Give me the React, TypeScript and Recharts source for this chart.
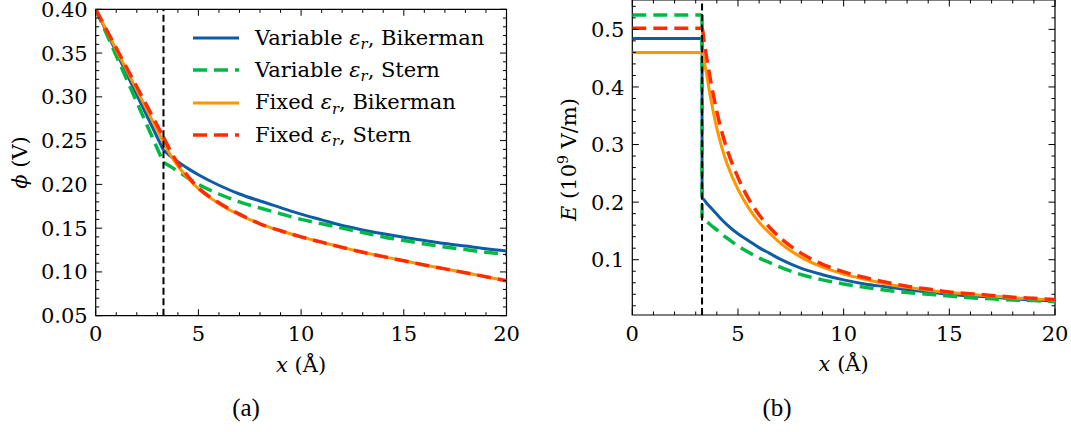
import { LineChart, Line, XAxis, YAxis, ReferenceLine, ReferenceArea } from 'recharts';

// (a) potential profile, phi in V
const xPhi = [0, 3.3, 3.6, 4, 4.5, 5, 6, 7, 8, 9, 10, 11, 12, 13, 14, 15, 16, 17, 18, 19, 20];
const phiVarBikerman = [0.4, 0.239, 0.233, 0.226, 0.218, 0.211, 0.199, 0.189, 0.181, 0.1735, 0.166, 0.1595, 0.153, 0.148, 0.1435, 0.1395, 0.136, 0.1325, 0.1295, 0.1265, 0.124];
const phiVarStern = [0.4, 0.225, 0.221, 0.215, 0.207, 0.2, 0.189, 0.18, 0.173, 0.1665, 0.16, 0.155, 0.15, 0.145, 0.14, 0.136, 0.132, 0.1285, 0.1255, 0.1225, 0.12];
const phiFixBikerman = [0.4, 0.248, 0.235, 0.221, 0.207, 0.195, 0.178, 0.165, 0.155, 0.147, 0.14, 0.134, 0.128, 0.1225, 0.1175, 0.1127, 0.108, 0.1035, 0.099, 0.0945, 0.09];
const phiFixStern = [0.4, 0.254, 0.24, 0.224, 0.209, 0.196, 0.179, 0.166, 0.155, 0.147, 0.14, 0.134, 0.128, 0.1225, 0.1175, 0.1127, 0.108, 0.1035, 0.099, 0.0945, 0.09];

// (b) field profile, E in 1e9 V/m (second point at the Stern plane carries the jump)
const xField = [0, 3.3, 3.301, 3.4, 3.5, 3.75, 4, 4.25, 4.5, 5, 5.5, 6, 6.5, 7, 8, 9, 10, 11, 12, 13, 14, 15, 16, 17, 18, 19, 20];
const eVarBikerman = [0.484, 0.484, 0.208, 0.204, 0.199, 0.189, 0.179, 0.169, 0.16, 0.145, 0.133, 0.121, 0.111, 0.101, 0.085, 0.074, 0.065, 0.058, 0.053, 0.048, 0.044, 0.04, 0.037, 0.035, 0.032, 0.03, 0.028];
const eVarStern = [0.525, 0.525, 0.172, 0.17, 0.167, 0.159, 0.152, 0.144, 0.137, 0.124, 0.113, 0.103, 0.095, 0.087, 0.074, 0.065, 0.058, 0.052, 0.047, 0.043, 0.04, 0.037, 0.034, 0.032, 0.03, 0.029, 0.027];
const eFixBikerman = [0.46, 0.46, 0.46, 0.445, 0.425, 0.372, 0.328, 0.293, 0.265, 0.222, 0.19, 0.165, 0.146, 0.129, 0.104, 0.087, 0.075, 0.066, 0.058, 0.052, 0.047, 0.043, 0.04, 0.037, 0.034, 0.032, 0.03];
const eFixStern = [0.502, 0.502, 0.502, 0.478, 0.455, 0.402, 0.357, 0.32, 0.29, 0.243, 0.206, 0.178, 0.156, 0.138, 0.111, 0.092, 0.079, 0.069, 0.061, 0.054, 0.049, 0.044, 0.041, 0.038, 0.035, 0.033, 0.031];

const sternPlane = 3.3;
const xTicks = [0, 5, 10, 15, 20];
const phiTicks = [0.05, 0.1, 0.15, 0.2, 0.25, 0.3, 0.35, 0.4];
const fieldTicks = [0.1, 0.2, 0.3, 0.4, 0.5];

const seriesDefs = [
  { key: 'varBik', eps: 'Variable', model: 'Bikerman', color: '#0C5DA5', dash: undefined, width: 3 },
  { key: 'varStern', eps: 'Variable', model: 'Stern', color: '#00B945', dash: '14 7', width: 3.5 },
  { key: 'fixBik', eps: 'Fixed', model: 'Bikerman', color: '#FF9500', dash: undefined, width: 3 },
  { key: 'fixStern', eps: 'Fixed', model: 'Stern', color: '#FF2C00', dash: '14 7', width: 3.5 },
];

const phiRows = xPhi.map((x, i) => ({
  x, varBik: phiVarBikerman[i], varStern: phiVarStern[i], fixBik: phiFixBikerman[i], fixStern: phiFixStern[i],
}));
const fieldRows = xField.map((x, i) => ({
  x, varBik: eVarBikerman[i], varStern: eVarStern[i], fixBik: eFixBikerman[i], fixStern: eFixStern[i],
}));

const SERIF = "'DejaVu Serif', serif";
const FS = 21;
const GAP_X = 10;
const GAP_Y = 8;

const same = (a: number, b: number) => Math.abs(a - b) < 1e-6;
const withMinors = (lo: number, hi: number, step: number) => {
  const out: number[] = [];
  for (let i = Math.ceil(lo / step - 1e-9); i * step <= hi + 1e-9; i++) out.push(+(i * step).toFixed(4));
  return out;
};

// ticks point inwards and are mirrored on the opposite side
const bottomTick = (majors: number[], topY: number) => (p: any) => {
  const v = p.payload.value;
  const major = majors.some((m) => same(m, v));
  const len = major ? 6.5 : 3.5;
  const ay = p.y - GAP_X;
  return (
    <g>
      <line x1={p.x} x2={p.x} y1={ay} y2={ay - len} stroke="#000" strokeWidth={1} />
      <line x1={p.x} x2={p.x} y1={topY} y2={topY + len} stroke="#000" strokeWidth={1} />
      {major && (
        <text x={p.x} y={p.y} dy="0.75em" textAnchor="middle" fontFamily={SERIF} fontSize={FS} fill="#000">
          {v}
        </text>
      )}
    </g>
  );
};

const leftTick = (majors: number[], rightX: number, digits: number) => (p: any) => {
  const v = p.payload.value;
  const major = majors.some((m) => same(m, v));
  const len = major ? 6.5 : 3.5;
  const ax = p.x + GAP_Y;
  return (
    <g>
      <line x1={ax} x2={ax + len} y1={p.y} y2={p.y} stroke="#000" strokeWidth={1} />
      <line x1={rightX} x2={rightX - len} y1={p.y} y2={p.y} stroke="#000" strokeWidth={1} />
      {major && (
        <text x={p.x} y={p.y} dy="0.36em" textAnchor="end" fontFamily={SERIF} fontSize={FS} fill="#000">
          {v.toFixed(digits)}
        </text>
      )}
    </g>
  );
};

const xLabel = (p: any) => {
  const vb = p.viewBox;
  return (
    <text x={vb.x + vb.width / 2} y={vb.y + 49} dy="0.35em" textAnchor="middle" fontFamily={SERIF} fontSize={FS} fill="#000">
      <tspan fontStyle="italic">x</tspan> (Å)
    </text>
  );
};

const phiLabel = (p: any) => {
  const vb = p.viewBox;
  const cx = 20;
  const cy = vb.y + vb.height / 2;
  return (
    <text x={cx} y={cy} dy="0.35em" textAnchor="middle" transform={`rotate(-90, ${cx}, ${cy})`} fontFamily={SERIF} fontSize={FS} fill="#000">
      <tspan fontStyle="italic">ϕ</tspan> (V)
    </text>
  );
};

const fieldLabel = (p: any) => {
  const vb = p.viewBox;
  const cx = 29;
  const cy = vb.y + vb.height / 2 + 2;
  return (
    <text x={cx} y={cy} dy="0.35em" textAnchor="middle" transform={`rotate(-90, ${cx}, ${cy})`} fontFamily={SERIF} fontSize={FS} fill="#000">
      <tspan fontStyle="italic">E</tspan> (10<tspan dy={-8} fontSize={14}>9</tspan><tspan dy={8}> V/m)</tspan>
    </text>
  );
};

// Stern layer is a straight segment, the diffuse part is a smooth curve
const renderLines = (rows: any[]) => {
  const inner = rows.filter((r) => r.x <= sternPlane);
  const outer = rows.filter((r) => r.x >= sternPlane);
  return seriesDefs.flatMap((s) => [
    <Line
      key={s.key + '-stern'}
      data={inner}
      type="linear"
      dataKey={s.key}
      stroke={s.color}
      strokeWidth={s.width}
      strokeDasharray={s.dash}
      dot={false}
      activeDot={false}
      isAnimationActive={false}
    />,
    <Line
      key={s.key + '-diffuse'}
      data={outer}
      type="monotone"
      dataKey={s.key}
      stroke={s.color}
      strokeWidth={s.width}
      strokeDasharray={s.dash}
      dot={false}
      activeDot={false}
      isAnimationActive={false}
    />,
  ]);
};

function PhiPanel() {
  const top = 9.3;
  const width = 540;
  const right = 506.5;
  return (
    <LineChart width={width} height={432} margin={{ top, right: width - right, bottom: 66.3, left: 0 }}>
      <XAxis
        dataKey="x"
        type="number"
        domain={[0, 20]}
        allowDataOverflow
        ticks={withMinors(0, 20, 1)}
        interval={0}
        axisLine={false}
        tickLine={false}
        tickSize={0}
        tickMargin={GAP_X}
        height={50}
        tick={bottomTick(xTicks, top)}
        label={{ content: xLabel }}
      />
      <YAxis
        type="number"
        domain={[0.05, 0.4]}
        allowDataOverflow
        ticks={withMinors(0.05, 0.4, 0.01)}
        interval={0}
        axisLine={false}
        tickLine={false}
        tickSize={0}
        tickMargin={GAP_Y}
        width={95.7}
        tick={leftTick(phiTicks, right, 2)}
        label={{ content: phiLabel }}
      />
      <ReferenceArea x1={0} x2={20} y1={0.05} y2={0.4} fill="none" stroke="#000" strokeWidth={1.2} ifOverflow="visible" />
      {renderLines(phiRows)}
      <ReferenceLine x={sternPlane} stroke="#000" strokeWidth={2} strokeDasharray="7 3.5" />
    </LineChart>
  );
}

function FieldPanel() {
  const top = 0;
  const width = 531;
  const right = 515;
  return (
    <LineChart width={width} height={432} margin={{ top, right: width - right, bottom: 67, left: 0 }}>
      <XAxis
        dataKey="x"
        type="number"
        domain={[0, 20]}
        allowDataOverflow
        ticks={withMinors(0, 20, 1)}
        interval={0}
        axisLine={false}
        tickLine={false}
        tickSize={0}
        tickMargin={GAP_X}
        height={50}
        tick={bottomTick(xTicks, top)}
        label={{ content: xLabel }}
      />
      <YAxis
        type="number"
        domain={[0.004, 0.551]}
        allowDataOverflow
        ticks={withMinors(0.004, 0.551, 0.02)}
        interval={0}
        axisLine={false}
        tickLine={false}
        tickSize={0}
        tickMargin={GAP_Y}
        width={92.3}
        tick={leftTick(fieldTicks, right, 1)}
        label={{ content: fieldLabel }}
      />
      <ReferenceArea x1={0} x2={20} y1={0.004} y2={0.551} fill="none" stroke="#000" strokeWidth={1.2} ifOverflow="visible" />
      {renderLines(fieldRows)}
      <ReferenceLine x={sternPlane} stroke="#000" strokeWidth={2} strokeDasharray="7 3.5" />
    </LineChart>
  );
}

function PhiLegend() {
  return (
    <div style={{ position: 'absolute', left: 193, top: 22, fontFamily: SERIF, fontSize: FS, color: '#000' }}>
      {seriesDefs.map((s) => (
        <div key={s.key} style={{ height: 32.3, display: 'flex', alignItems: 'center', whiteSpace: 'nowrap' }}>
          <svg width={46} height={10} style={{ display: 'block' }}>
            <line x1={0} x2={46} y1={5} y2={5} stroke={s.color} strokeWidth={s.width} strokeDasharray={s.dash} />
          </svg>
          <span style={{ marginLeft: 16, lineHeight: 1 }}>
            {s.eps} <i>ε</i>
            <i style={{ fontSize: '0.7em', position: 'relative', top: '0.3em' }}>r</i>, {s.model}
          </span>
        </div>
      ))}
    </div>
  );
}

const captionStyle = {
  position: 'absolute' as const,
  width: 80,
  top: 394,
  textAlign: 'center' as const,
  fontFamily: "'Liberation Serif', serif",
  fontSize: 25,
  color: '#000',
};

export default function App() {
  return (
    <div style={{ position: 'absolute', left: 0, top: 0, width: 1071, height: 432, background: '#fff', overflow: 'hidden' }}>
      <div style={{ position: 'absolute', left: 0, top: 0 }}>
        <PhiPanel />
      </div>
      <div style={{ position: 'absolute', left: 540, top: 0 }}>
        <FieldPanel />
      </div>
      <PhiLegend />
      <div style={{ ...captionStyle, left: 206 }}>(a)</div>
      <div style={{ ...captionStyle, left: 737 }}>(b)</div>
    </div>
  );
}
